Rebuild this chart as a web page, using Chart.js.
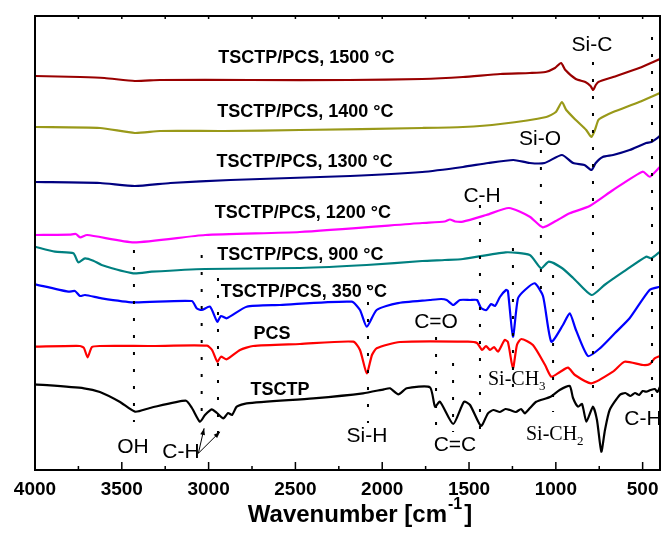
<!DOCTYPE html>
<html>
<head>
<meta charset="utf-8">
<script src="https://cdn.jsdelivr.net/npm/chart.js@4.4.0/dist/chart.umd.min.js"></script>
<style>
  body { margin: 0; background: #fff; }
</style>
</head>
<body>
<canvas id="ftir" width="663" height="537"></canvas>
<script>
// wavenumber (cm-1) and offset transmittance (a.u.)
const wn1500 = [4000,3740,3600,3425,3280,2760,2190,1770,1535,1320,1150,1060,1005,970,945,885,830,800,785,770,755,670,520,400];
const t1500  = [394,393,392,389,390,390,390,391,393,396,397,398,402,407,400,391,388,384,380,385,388,393,402,411];

const wn1400 = [4000,3625,3425,3280,2910,2475,1770,1535,1320,1055,1000,965,940,885,825,795,775,755,730,670,520,400];
const t1400  = [343,342,337,339,339,340,342,343,346,353,358,368,360,350,340,333,340,350,353,358,368,377];

const wn1300 = [4000,3625,3425,3220,2875,2185,1770,1535,1390,1245,1150,1065,965,900,835,795,770,730,670,575,480,450,400];
const t1300  = [288,287,284,287,290,294,298,303,307,310,307,307,315,307,305,300,307,313,315,320,327,328,334];

const wn1200 = [4000,3800,3765,3740,3700,3430,3020,2475,1770,1640,1610,1580,1535,1400,1270,1150,1075,1000,920,805,670,500,460,400];
const t1200  = [235,235.3,236,232.7,235,227.7,235,238,247,248.5,250.5,248.5,248.3,255,262,253.3,242.7,249,256.7,264,280,298.3,293.3,303.3];

const wn900 = [4000,3885,3779,3751,3712,3664,3616,3434,3328,3021,2475,2090,1770,1640,1535,1290,1150,1085,1040,965,900,795,720,610,480,450,400];
const t900  = [223.3,218.3,216.7,207.7,211.7,209.3,205,196.7,198.3,201,202,205,209,210,211,217.7,215,201.7,208.3,202,192,175,185,198.3,213.3,211.7,218.3];

const wn350 = [4000,3808,3770,3741,3712,3616,3434,3097,3069,3040,2992,2950,2929,2896,2781,2589,2176,2128,2089,2032,1917,1725,1661,1629,1591,1552,1494,1454,1431,1400,1373,1350,1322,1287,1276,1247,1218,1178,1122,1074,1026,959,920,884,815,746,659,575,460,400];
const t350  = [185.7,178.3,179,174,175,171.7,167.7,169,161.7,160,163.3,148.3,154,151.7,163.3,165,168.3,160,143.3,160,166.7,170,171,170,165,170,170,170,162,160,166,164,173,180,179,133.3,171.7,180,186.7,174,128.3,145,156.7,140,114,121.7,137,151.7,180,183.3];

const wnPCS = [4000,3741,3718,3697,3672,3626,3338,3009,2980,2950,2929,2896,2819,2744,2474,2167,2128,2089,2059,2032,1898,1506,1454,1425,1402,1379,1356,1333,1295,1276,1247,1224,1199,1132,1062,1026,976,930,890,796,671,604,498,458,431,400];
const tPCS  = [123.3,124,122,112.7,123,124,124,124.3,120,108.3,113.3,110.7,120,124,126,128.3,120,96.7,115,121.7,128,128.3,127,120,124,120,123,118.3,130,128,101.7,125,131,125,105,93.3,98,102.3,95,86.7,98.3,108.3,105,106,111.7,114];

const wnTSCTP = [4000,3718,3626,3510,3424,3338,3132,3096,3050,3021,2982,2952,2915,2888,2865,2838,2781,2397,2111,1990,1955,1907,1859,1725,1696,1667,1591,1529,1494,1431,1391,1360,1322,1290,1264,1230,1200,1179,1149,1113,1034,978,920,901,872,849,824,786,763,738,717,690,632,600,570,544,520,500,479,455,429,415,400];
const tTSCTP  = [85.7,81.7,78,68,58.3,62,69.3,62,48.3,55,60.7,57,51.7,57,55,63.3,66.7,71.7,76.7,80.7,81.7,75.7,81.7,82.7,63.3,68.3,46,68.3,65,44,56.7,60,58,61,60,58,61,56.7,62,68.3,73,80,84,72,63.3,66,48.3,63.3,50,18.3,40,60,75,77,74,77,75,79,78.3,80,81,78,83.3];

const xTickValues = [500, 1000, 1500, 2000, 2500, 3000, 3500, 4000];

const series = [
  ['TSCTP/PCS, 1500 °C', wn1500, t1500, '#990000'],
  ['TSCTP/PCS, 1400 °C', wn1400, t1400, '#999919'],
  ['TSCTP/PCS, 1300 °C', wn1300, t1300, '#000080'],
  ['TSCTP/PCS, 1200 °C', wn1200, t1200, '#ff00ff'],
  ['TSCTP/PCS, 900 °C', wn900, t900, '#008080'],
  ['TSCTP/PCS, 350 °C', wn350, t350, '#0000ff'],
  ['PCS', wnPCS, tPCS, '#ff0000'],
  ['TSCTP', wnTSCTP, tTSCTP, '#000000']
];

// curve names, placed at [wavenumber, level]
const boldNotes = [
  ['TSCTP/PCS, 1500 °C', 2945, 412],
  ['TSCTP/PCS, 1400 °C', 2950, 358.3],
  ['TSCTP/PCS, 1300 °C', 2955, 308.3],
  ['TSCTP/PCS, 1200 °C', 2965, 256.7],
  ['TSCTP/PCS, 900 °C', 2950, 215],
  ['TSCTP/PCS, 350 °C', 2930, 178.3]
];
const boldCentered = [['PCS', 2635, 136], ['TSCTP', 2589, 80]];
// band assignments
const bandNotes = [
  ['Si-C', 792, 425], ['Si-O', 1091, 331], ['C-H', 1425, 274], ['C=O', 1690, 148],
  ['OH', 3436, 23], ['C-H', 3159, 18], ['Si-H', 2088, 34], ['C=C', 1581, 25], ['C-H', 498, 51]
];
const serifNotes = [['Si-CH', '3', 1391, 90], ['Si-CH', '2', 1172, 35]];
// dotted guides: [wavenumber, from, to]
const guides = [
  [3430, 220, 48], [3040, 215, 53], [2946, 192, 37], [2082, 185, 47], [1690, 133, 43],
  [1592, 107, 38], [1437, 265, 37], [1247, 222, 75], [1086, 320, 170], [1016, 195, 58],
  [786, 408, 70], [446, 433, 73]
];
const arrows = [[3059, 16.7, 3026, 41.7], [3059, 16.7, 2934, 38.3]];

const SANS = '"Liberation Sans", Arial, sans-serif';
const SERIF = '"Liberation Serif", "Times New Roman", serif';

function arrowHead(ctx, x0, y0, x1, y1) {
  const a = Math.atan2(y1 - y0, x1 - x0);
  ctx.beginPath();
  ctx.moveTo(x1, y1);
  ctx.lineTo(x1 - 7 * Math.cos(a - 0.35), y1 - 7 * Math.sin(a - 0.35));
  ctx.lineTo(x1 - 7 * Math.cos(a + 0.35), y1 - 7 * Math.sin(a + 0.35));
  ctx.closePath();
  ctx.fill();
}

const decor = {
  id: 'decor',
  afterDatasetsDraw(chart) {
    const { ctx, chartArea: a, scales: { x, y } } = chart;
    ctx.save();
    ctx.fillStyle = '#000';
    ctx.strokeStyle = '#000';

    // dotted guide lines
    ctx.lineWidth = 2;
    ctx.setLineDash([3, 14]);
    guides.forEach(([w, y0, y1]) => {
      const px = x.getPixelForValue(w);
      ctx.beginPath();
      ctx.moveTo(px, y.getPixelForValue(y0));
      ctx.lineTo(px, y.getPixelForValue(y1));
      ctx.stroke();
    });
    ctx.setLineDash([]);

    // frame
    ctx.lineWidth = 2;
    ctx.strokeRect(a.left, a.top, a.right - a.left, a.bottom - a.top);

    // ticks, inside the frame
    ctx.lineWidth = 1.5;
    x.ticks.forEach(t => {
      [t.value, t.value + 250].forEach((v, i) => {
        if (v > 4000) return;
        const px = x.getPixelForValue(v);
        ctx.beginPath();
        ctx.moveTo(px, a.bottom);
        ctx.lineTo(px, a.bottom - (i === 0 ? 8 : 4));
        ctx.moveTo(px, a.top);
        ctx.lineTo(px, a.top + 3);
        ctx.stroke();
      });
    });

    // texts
    ctx.textBaseline = 'middle';
    ctx.font = 'bold 18px ' + SANS;
    ctx.textAlign = 'left';
    boldNotes.forEach(([s, w, v]) => ctx.fillText(s, x.getPixelForValue(w), y.getPixelForValue(v)));
    ctx.textAlign = 'center';
    boldCentered.forEach(([s, w, v]) => ctx.fillText(s, x.getPixelForValue(w), y.getPixelForValue(v)));

    ctx.font = '21px ' + SANS;
    bandNotes.forEach(([s, w, v]) => ctx.fillText(s, x.getPixelForValue(w), y.getPixelForValue(v)));

    ctx.textAlign = 'left';
    serifNotes.forEach(([s, sub, w, v]) => {
      const px = x.getPixelForValue(w), py = y.getPixelForValue(v);
      ctx.font = '20px ' + SERIF;
      ctx.fillText(s, px, py);
      const wd = ctx.measureText(s).width;
      ctx.font = '13px ' + SERIF;
      ctx.fillText(sub, px + wd, py + 7);
    });

    // arrows
    ctx.lineWidth = 1;
    arrows.forEach(([w0, v0, w1, v1]) => {
      const x0 = x.getPixelForValue(w0), y0 = y.getPixelForValue(v0);
      const x1 = x.getPixelForValue(w1), y1 = y.getPixelForValue(v1);
      ctx.beginPath();
      ctx.moveTo(x0, y0);
      ctx.lineTo(x1, y1);
      ctx.stroke();
      arrowHead(ctx, x0, y0, x1, y1);
    });

    // axis title with superscript
    const p1 = 'Wavenumber [cm', sup = '-1';
    ctx.font = 'bold 24px ' + SANS;
    const w1 = ctx.measureText(p1).width, w3 = ctx.measureText(']').width;
    ctx.font = 'bold 16px ' + SANS;
    const w2 = ctx.measureText(sup).width;
    let bx = 360 - (w1 + w2 + w3 + 3) / 2;
    const by = 515;
    ctx.font = 'bold 24px ' + SANS;
    ctx.fillText(p1, bx, by);
    ctx.font = 'bold 16px ' + SANS;
    ctx.fillText(sup, bx + w1 + 1, by - 10);
    ctx.font = 'bold 24px ' + SANS;
    ctx.fillText(']', bx + w1 + w2 + 3, by);
    ctx.restore();
  }
};

new Chart(document.getElementById('ftir'), {
  type: 'line',
  data: {
    datasets: series.map(([label, xs, ys, color]) => ({
      label,
      data: xs.map((w, i) => ({ x: w, y: ys[i] })),
      borderColor: color,
      borderWidth: 2.2,
      pointRadius: 0,
      tension: 0.2,
      fill: false
    }))
  },
  options: {
    responsive: false,
    animation: false,
    layout: { padding: { left: 35, right: 3, top: 16, bottom: 0 } },
    plugins: { legend: { display: false }, tooltip: { enabled: false } },
    scales: {
      x: {
        type: 'linear',
        reverse: true,
        min: 400,
        max: 4000,
        grid: { display: false, drawTicks: false },
        border: { display: false },
        ticks: {
          autoSkip: false,
          maxRotation: 0,
          padding: 8,
          color: '#000',
          font: { family: SANS, size: 19, weight: 'bold' },
          callback: v => String(v)
        },
        afterBuildTicks: s => { s.ticks = xTickValues.map(v => ({ value: v })); },
        afterFit: s => { s.height = 67; s.paddingLeft = 0; s.paddingRight = 0; }
      },
      y: { display: false, min: 0, max: 454 }
    }
  },
  plugins: [decor]
});
</script>
</body>
</html>
